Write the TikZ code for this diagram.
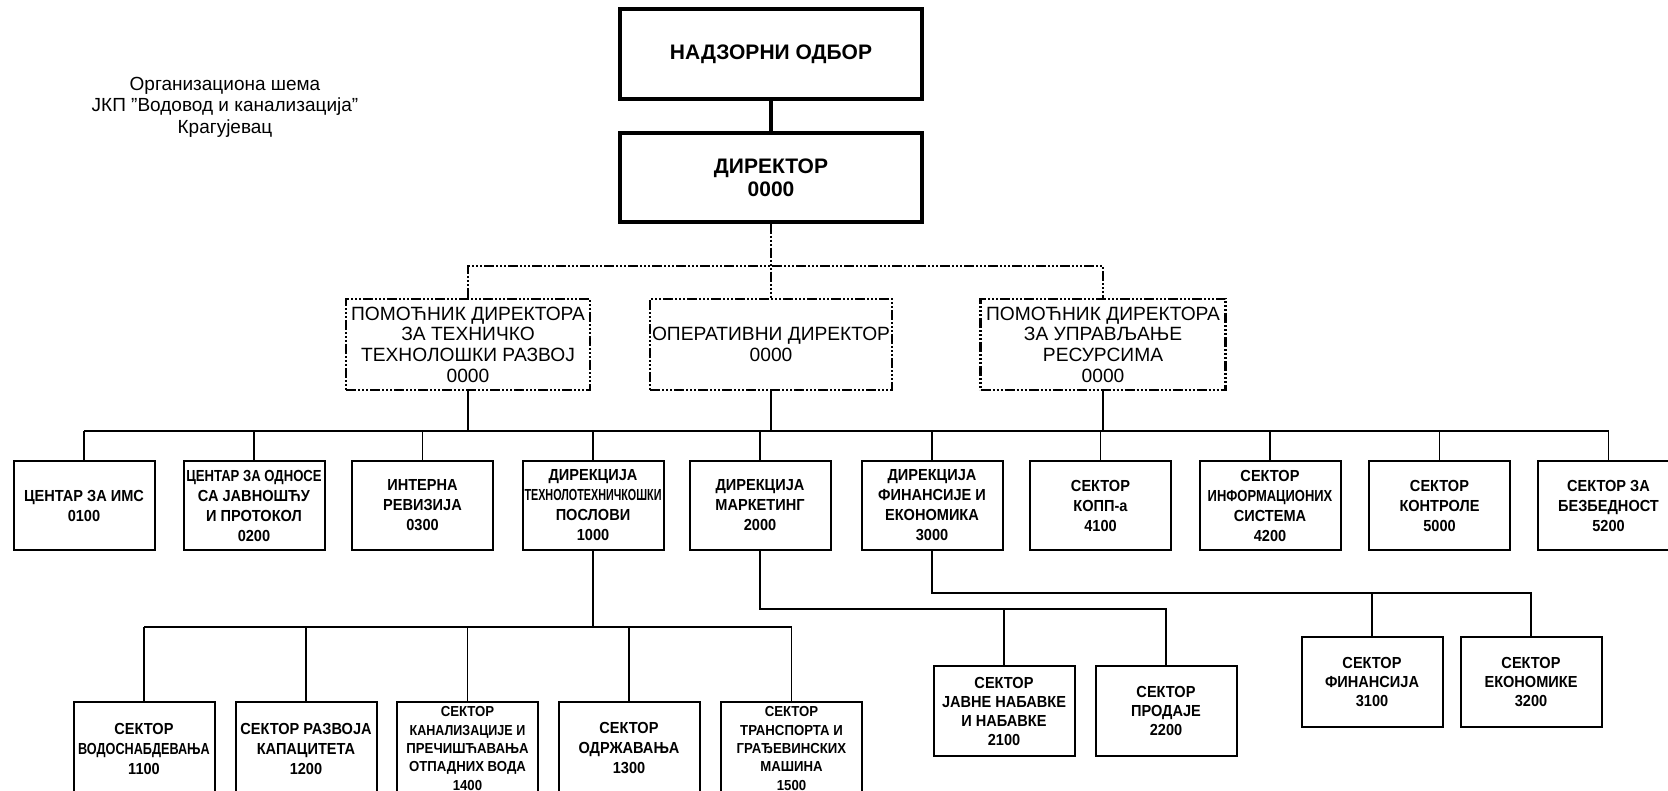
\documentclass[tikz,border=0pt]{standalone}
\usepackage{fontspec}
\setmainfont{Liberation Sans}
\newfontfamily\narrowf[FakeStretch=0.91]{Liberation Sans}
\usepackage{graphicx}
\newcommand{\sq}[2]{\scalebox{#1}[1]{#2}}
\begin{document}
\begin{tikzpicture}[x=1pt,y=-1pt,
  topbox/.style={draw, line width=3.5pt, inner sep=0pt, align=center,
     font=\fontsize{21}{23}\selectfont\bfseries},
  dashbox/.style={draw, line width=2.5pt, inner sep=0pt, align=center,
     minimum height=91pt,
     dash pattern=on 10pt off 2pt on 2pt off 2pt on 2pt off 2pt on 2pt off 2pt,
     font=\fontsize{19.2}{20.7}\selectfont},
  unitbox/.style={draw, line width=2pt, inner sep=0pt, align=center,
     minimum width=141pt, font=\narrowf\bfseries\fontsize{16}{20}\selectfont},
  rightbox/.style={unitbox, minimum height=90pt, font=\narrowf\bfseries\fontsize{16}{19}\selectfont},
  smallbox/.style={unitbox, font=\narrowf\bfseries\fontsize{14.5}{18.3}\selectfont},
  conn/.style={line width=1.6pt},
  dashconn/.style={line width=2.5pt,
     dash pattern=on 10pt off 2pt on 2pt off 2pt on 2pt off 2pt on 2pt off 2pt},
  title/.style={align=center, font=\fontsize{19}{21.5}\selectfont}
]
\useasboundingbox[fill=white] (0,0) rectangle (1668,791);

\node[title] (ttl) at (225,107) {Организациона шема\\ЈКП "Водовод и канализација"\\Крагујевац};

\node[topbox, minimum width=302pt, minimum height=90pt] (nad) at (771,54) {НАДЗОРНИ ОДБОР};
\node[topbox, minimum width=302pt, minimum height=89pt] (dir) at (771,177.5) {ДИРЕКТОР\\0000};
\draw[line width=3.5pt] (nad.south) -- (dir.north);

\node[dashbox, minimum width=244pt] (pl) at (468,344.5) {ПОМОЋНИК ДИРЕКТОРА\\ЗА ТЕХНИЧКО\\ТЕХНОЛОШКИ РАЗВОЈ\\0000};
\node[dashbox, minimum width=242pt] (pm) at (771,344.5) {ОПЕРАТИВНИ ДИРЕКТОР\\0000};
\node[dashbox, minimum width=245pt] (pr) at (1103,344.5) {ПОМОЋНИК ДИРЕКТОРА\\ЗА УПРАВЉАЊЕ\\РЕСУРСИМА\\0000};

\coordinate (j1) at (0,266);
\draw[dashconn] (dir.south) -- (pm.north);
\draw[dashconn] (pl.north) -- (pl.north |- j1) -- (pr.north |- j1) -- (pr.north);

% row 2
\node[unitbox, minimum height=89pt] (b1) at (84,505.5) {ЦЕНТАР ЗА ИМС\\0100};
\node[unitbox, minimum height=89pt] (b2) at (254,505.5) {\sq{0.9}{ЦЕНТАР ЗА ОДНОСЕ}\\СА ЈАВНОШЋУ\\И ПРОТОКОЛ\\0200};
\node[unitbox, minimum height=89pt] (b3) at (422.5,505.5) {ИНТЕРНА\\РЕВИЗИЈА\\0300};
\node[unitbox, minimum height=89pt] (b4) at (593,505.5) {ДИРЕКЦИЈА\\\sq{0.74}{ТЕХНОЛОТЕХНИЧКОШКИ}\\ПОСЛОВИ\\1000};
\node[unitbox, minimum height=89pt] (b5) at (760,505.5) {ДИРЕКЦИЈА\\МАРКЕТИНГ\\2000};
\node[unitbox, minimum height=89pt] (b6) at (932,505.5) {ДИРЕКЦИЈА\\ФИНАНСИЈЕ И\\ЕКОНОМИКА\\3000};
\node[unitbox, minimum height=89pt] (b7) at (1100.5,505.5) {СЕКТОР\\КОПП-а\\4100};
\node[unitbox, minimum height=89pt] (b8) at (1270,505.5) {СЕКТОР\\\sq{0.89}{ИНФОРМАЦИОНИХ}\\СИСТЕМА\\4200};
\node[unitbox, minimum height=89pt] (b9) at (1439.5,505.5) {СЕКТОР\\КОНТРОЛЕ\\5000};
\node[unitbox, minimum height=89pt] (b10) at (1608.5,505.5) {СЕКТОР ЗА\\БЕЗБЕДНОСТ\\5200};

\coordinate (j2) at (0,431);
\draw[conn] (b1.north |- j2) -- (b10.north |- j2);
\foreach \n in {b1,b2,b3,b4,b5,b6,b7,b8,b9,b10} {\draw[conn] (\n.north) -- (\n.north |- j2);}
\foreach \n in {pl,pm,pr} {\draw[conn] (\n.south) -- (\n.south |- j2);}

% row 3 under 1000
\node[unitbox, minimum height=93pt] (d1) at (144,748.5) {СЕКТОР\\\sq{0.87}{ВОДОСНАБДЕВАЊА}\\1100};
\node[unitbox, minimum height=93pt] (d2) at (306,748.5) {СЕКТОР РАЗВОЈА\\КАПАЦИТЕТА\\1200};
\node[smallbox, minimum height=93pt] (d3) at (467.5,748.5) {СЕКТОР\\\sq{0.95}{КАНАЛИЗАЦИЈЕ И}\\ПРЕЧИШЋАВАЊА\\ОТПАДНИХ ВОДА\\1400};
\node[unitbox, minimum height=93pt] (d4) at (629,748.5) {СЕКТОР\\ОДРЖАВАЊА\\1300};
\node[smallbox, minimum height=93pt] (d5) at (791.5,748.5) {СЕКТОР\\ТРАНСПОРТА И\\ГРАЂЕВИНСКИХ\\МАШИНА\\1500};
\coordinate (j3) at (0,627);
\draw[conn] (b4.south) -- (b4.south |- j3);
\draw[conn] (d1.north |- j3) -- (d5.north |- j3);
\foreach \n in {d1,d2,d3,d4,d5} {\draw[conn] (\n.north) -- (\n.north |- j3);}

% under 2000
\node[rightbox] (e1) at (1004,711) {СЕКТОР\\ЈАВНЕ НАБАВКЕ\\И НАБАВКЕ\\2100};
\node[rightbox] (e2) at (1166,711) {СЕКТОР\\ПРОДАЈЕ\\2200};
\coordinate (j4) at (0,609);
\draw[conn] (b5.south) -- (b5.south |- j4) -- (e2.north |- j4) -- (e2.north);
\draw[conn] (e1.north) -- (e1.north |- j4);

% under 3000
\node[rightbox] (f1) at (1372,682) {СЕКТОР\\ФИНАНСИЈА\\3100};
\node[rightbox] (f2) at (1531,682) {СЕКТОР\\ЕКОНОМИКЕ\\3200};
\coordinate (j5) at (0,593);
\draw[conn] (b6.south) -- (b6.south |- j5) -- (f2.north |- j5) -- (f2.north);
\draw[conn] (f1.north) -- (f1.north |- j5);
\end{tikzpicture}
\end{document}
